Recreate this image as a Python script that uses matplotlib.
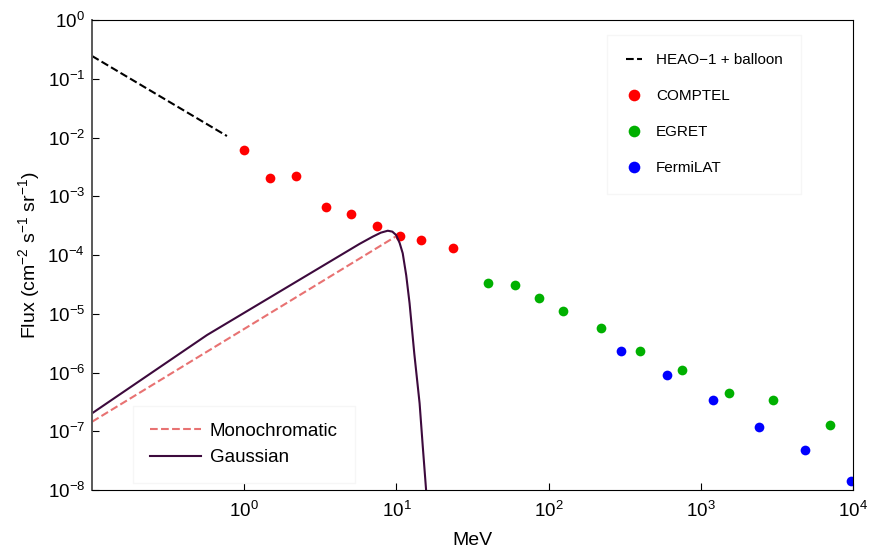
import matplotlib
matplotlib.use("Agg")
import matplotlib.pyplot as plt

plt.rcParams['font.family'] = ['Liberation Sans', 'DejaVu Sans']
plt.rcParams['mathtext.fontset'] = 'custom'
plt.rcParams['mathtext.rm'] = 'Liberation Sans'
plt.rcParams['mathtext.it'] = 'Liberation Sans'

# HEAO-1 + balloon (dashed power law)
heao_E = [0.1, 0.77]
heao_F = [0.244, 0.0106]

# COMPTEL
comptel_E = [1.0, 1.48, 2.2, 3.46, 5.06, 7.4, 10.5, 14.6, 23.4]
comptel_F = [6.1e-3, 2.04e-3, 2.2e-3, 6.6e-4, 5.0e-4, 3.1e-4, 2.1e-4, 1.8e-4, 1.3e-4]

# EGRET
egret_E = [39.7, 59.8, 86, 124, 220, 397, 750, 1530, 2980, 7060]
egret_F = [3.3e-5, 3.1e-5, 1.85e-5, 1.1e-5, 5.8e-6, 2.35e-6, 1.1e-6, 4.5e-7, 3.4e-7, 1.3e-7]

# FermiLAT
fermi_E = [301, 597, 1205, 2400, 4830, 9660]
fermi_F = [2.3e-6, 9.1e-7, 3.4e-7, 1.2e-7, 4.8e-8, 1.4e-8]

# model curves
mono_E = [0.1, 10.0]
mono_F = [1.45e-7, 2.1e-4]

gauss_E = [0.1, 0.57, 5.71, 6.98, 7.9, 8.77, 9.4, 9.95, 10.5, 11.0, 11.6,
           12.2, 13.1, 14.2, 14.9, 15.7]
gauss_F = [2.02e-7, 4.35e-6, 1.54e-4, 2.05e-4, 2.4e-4, 2.59e-4, 2.5e-4,
           2.19e-4, 1.6e-4, 1.07e-4, 4.5e-5, 1.51e-5, 2.12e-6, 2.99e-7, 5.5e-8, 9.3e-9]

fig = plt.figure(figsize=(8.69, 5.54), dpi=100)
ax = fig.add_axes([0.1059, 0.1155, 0.8757, 0.8484])

l1, = ax.plot(heao_E, heao_F, ls='--', color='black', lw=1.5, label='HEAO\u22121 + balloon')
p1, = ax.plot(comptel_E, comptel_F, 'o', color='#ff0000', ms=7, mec='none', label='COMPTEL')
p2, = ax.plot(egret_E, egret_F, 'o', color='#00b000', ms=7, mec='none', label='EGRET')
p3, = ax.plot(fermi_E, fermi_F, 'o', color='#0000ff', ms=7, mec='none', label='FermiLAT')
m1, = ax.plot(mono_E, mono_F, ls='--', color='#e87272', lw=1.5, label='Monochromatic')
g1, = ax.plot(gauss_E, gauss_F, ls='-', color='#3d0a3d', lw=1.5, label='Gaussian')

ax.set_xscale('log')
ax.set_yscale('log')
ax.set_xlim(0.1, 1e4)
ax.set_ylim(1e-8, 1)
ax.set_xticks([1, 10, 100, 1000, 10000])
ax.set_yticks([10.0 ** k for k in range(-8, 1)])
ax.minorticks_off()
ax.tick_params(which='major', direction='in', length=5, labelsize=13.5)
ax.tick_params(axis='x', pad=8)
ax.tick_params(axis='y', pad=5)

ax.spines['left'].set_color('0.35')
ax.spines['left'].set_linewidth(1.4)

ax.set_xlabel('MeV', fontsize=14, labelpad=8)
ax.set_ylabel('Flux (cm$^{-2}$ s$^{-1}$ sr$^{-1}$)', fontsize=14, labelpad=4)

leg1 = ax.legend(handles=[l1, p1, p2, p3], loc='upper right', bbox_to_anchor=(0.942, 0.985),
                 fontsize=11, labelspacing=1.45, handlelength=1.1, handletextpad=0.9,
                 markerscale=1.2, borderpad=1.2,
                 frameon=True, fancybox=False, edgecolor='#f6f6f6', framealpha=1)
ax.add_artist(leg1)
ax.legend(handles=[m1, g1], loc='lower left', bbox_to_anchor=(0.054, 0.015),
          borderaxespad=0,
          fontsize=13.5, labelspacing=0.5, handlelength=2.7, handletextpad=0.5,
          borderpad=0.9,
          frameon=True, fancybox=False, edgecolor='#f6f6f6', framealpha=1)

fig.savefig('out.png', dpi=100)
